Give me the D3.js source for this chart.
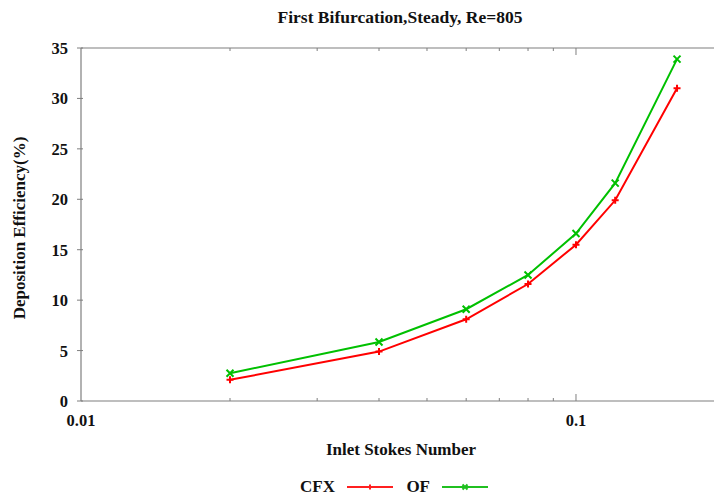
<!DOCTYPE html>
<html>
<head>
<meta charset="utf-8">
<script src="https://cdn.jsdelivr.net/npm/d3@7"></script>
<style>
  body { margin: 0; background: #fff; }
  text { font-family: "Liberation Serif", "Times New Roman", serif; font-weight: bold; fill: #111; }
</style>
</head>
<body>
<svg id="chart" width="714" height="497"></svg>
<script>
// data
const stokes = [0.02, 0.04, 0.06, 0.08, 0.1, 0.12, 0.16]
const cfx = [2.1, 4.9, 8.1, 11.6, 15.5, 19.9, 31.0]
const of = [2.75, 5.85, 9.1, 12.5, 16.6, 21.6, 33.9]
const yTicks = [0, 5, 10, 15, 20, 25, 30, 35]
const xMajor = [0.01, 0.1]
const xMinor = [0.02, 0.03, 0.04, 0.05, 0.06, 0.07, 0.08, 0.09]

const svg = d3.select("#chart")
const axisColor = "#7f7f7f"

const x = d3.scaleLog().domain([0.01, 0.2]).range([81, 725])
const y = d3.scaleLinear().domain([0, 35]).range([401, 48])

// frame: left, bottom, top
svg.append("line").attr("x1", 81).attr("x2", 81).attr("y1", y(35)).attr("y2", y(0))
   .attr("stroke", axisColor).attr("stroke-width", 1.2)
svg.append("line").attr("x1", 81).attr("x2", 714).attr("y1", y(0)).attr("y2", y(0))
   .attr("stroke", axisColor).attr("stroke-width", 1.2)
svg.append("line").attr("x1", 81).attr("x2", 714).attr("y1", y(35)).attr("y2", y(35))
   .attr("stroke", axisColor).attr("stroke-width", 1.2)

// x ticks (inward on bottom and top)
const ticks = xMinor.map(v => ({v, len: 3})).concat([{v: 0.1, len: 7}])
ticks.forEach(t => {
  svg.append("line").attr("x1", x(t.v)).attr("x2", x(t.v))
     .attr("y1", y(0)).attr("y2", y(0) - t.len).attr("stroke", axisColor)
  svg.append("line").attr("x1", x(t.v)).attr("x2", x(t.v))
     .attr("y1", y(35)).attr("y2", y(35) + t.len).attr("stroke", axisColor)
})
svg.selectAll("text.xt").data(xMajor).enter().append("text")
   .attr("x", d => x(d)).attr("y", 426).attr("text-anchor", "middle")
   .attr("font-size", 16.5).text(d => d)

// y ticks
yTicks.forEach(v => {
  svg.append("line").attr("x1", 77).attr("x2", 83).attr("y1", y(v)).attr("y2", y(v))
     .attr("stroke", axisColor)
})
svg.selectAll("text.yt").data(yTicks).enter().append("text")
   .attr("x", 68).attr("y", d => y(d) + 6).attr("text-anchor", "end")
   .attr("font-size", 16.5).text(d => d)

// titles
svg.append("text").attr("x", 400).attr("y", 23).attr("text-anchor", "middle")
   .attr("font-size", 17.5).text("First Bifurcation,Steady, Re=805")
svg.append("text").attr("x", 401).attr("y", 455).attr("text-anchor", "middle")
   .attr("font-size", 17).text("Inlet Stokes Number")
svg.append("text").attr("transform", "translate(25,228) rotate(-90)")
   .attr("text-anchor", "middle").attr("font-size", 17).text("Deposition Efficiency(%)")

// series
const line = d3.line().x(d => x(d[0])).y(d => y(d[1]))
const series = [
  {name: "CFX", vals: cfx, color: "#ff0000", mark: "plus"},
  {name: "OF", vals: of, color: "#00c000", mark: "cross"}
]

function marker(g, px, py, type, color, s) {
  const p = type === "plus"
    ? `M${px - s},${py}L${px + s},${py}M${px},${py - s}L${px},${py + s}`
    : `M${px - s},${py - s}L${px + s},${py + s}M${px - s},${py + s}L${px + s},${py - s}`
  g.append("path").attr("d", p).attr("stroke", color).attr("stroke-width", 2)
}

series.forEach(s => {
  const pts = stokes.map((v, i) => [v, s.vals[i]])
  svg.append("path").datum(pts).attr("d", line)
     .attr("fill", "none").attr("stroke", s.color).attr("stroke-width", 2)
  pts.forEach(p => marker(svg, x(p[0]), y(p[1]), s.mark, s.color, 3.5))
})

// legend
const legend = [
  {name: "CFX", tx: 335, lx1: 347, lx2: 393, color: "#ff2020", mark: "plus"},
  {name: "OF", tx: 430, lx1: 442, lx2: 488, color: "#20c020", mark: "cross"}
]
legend.forEach(l => {
  svg.append("text").attr("x", l.tx).attr("y", 492).attr("text-anchor", "end")
     .attr("font-size", 17).text(l.name)
  svg.append("line").attr("x1", l.lx1).attr("x2", l.lx2).attr("y1", 487).attr("y2", 487)
     .attr("stroke", l.color).attr("stroke-width", 2.2)
  marker(svg, (l.lx1 + l.lx2) / 2, 487, l.mark, l.color, 2.5)
})
</script>
</body>
</html>
